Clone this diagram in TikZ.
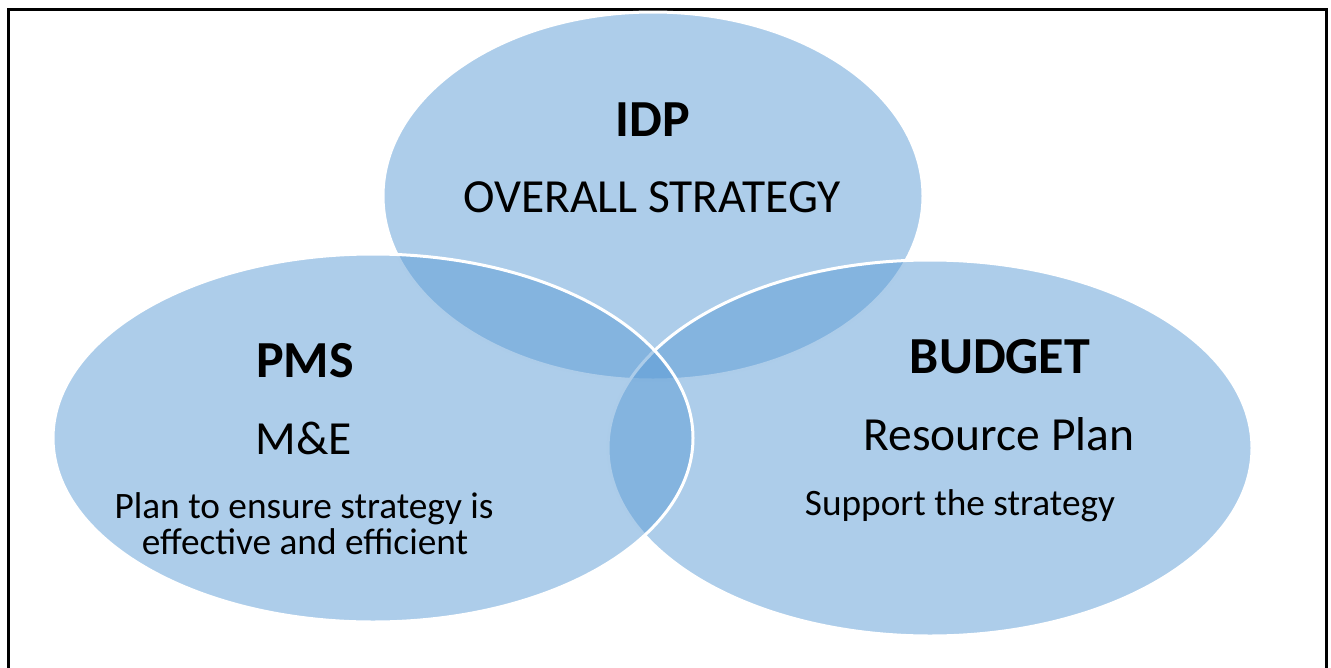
\documentclass[tikz,border=0pt]{standalone}
\usepackage{fontspec}
\setmainfont{Carlito}
\usepackage{xcolor}
\definecolor{vennblue}{RGB}{91,155,213}

\begin{document}
\begin{tikzpicture}[x=1pt, y=-1pt,
  venn/.style={fill=vennblue, fill opacity=0.5, draw=white, line width=3pt},
  headtext/.style={anchor=base, font=\fontsize{52}{60}\selectfont\bfseries},
  subtext/.style={anchor=base, font=\fontsize{47.5}{56}\selectfont},
  notetext/.style={anchor=base, font=\fontsize{37.3}{44}\selectfont}]

  \useasboundingbox (0,0) rectangle (1331,667);

  % Frame
  \draw[line width=3pt] (8,9) rectangle (1326,700);

  % Venn circles
  \filldraw[venn] (653,196) ellipse (270 and 184);
  \filldraw[venn] (930,448) ellipse (322 and 188);
  \filldraw[venn] (373,438) ellipse (320 and 184);

  % IDP
  \node[headtext] (idp) at (653,136) {IDP};
  \node[subtext] (idpsub) at (652,212) {OVERALL STRATEGY};

  % PMS
  \node[headtext] (pms) at (305,377) {PMS};
  \node[subtext] (pmssub) at (304,454) {M\&E};
  \node[notetext] (pmsnote) at (304,518) {Plan to ensure strategy is};
  \node[notetext] (pmsnotemore) at (305,554) {effective and efficient};

  % Budget
  \node[headtext] (budget) at (1000,373) {BUDGET};
  \node[subtext] (budgetsub) at (999,450) {Resource Plan};
  \node[notetext] (budgetnote) at (960,515) {Support the strategy};

\end{tikzpicture}
\end{document}
